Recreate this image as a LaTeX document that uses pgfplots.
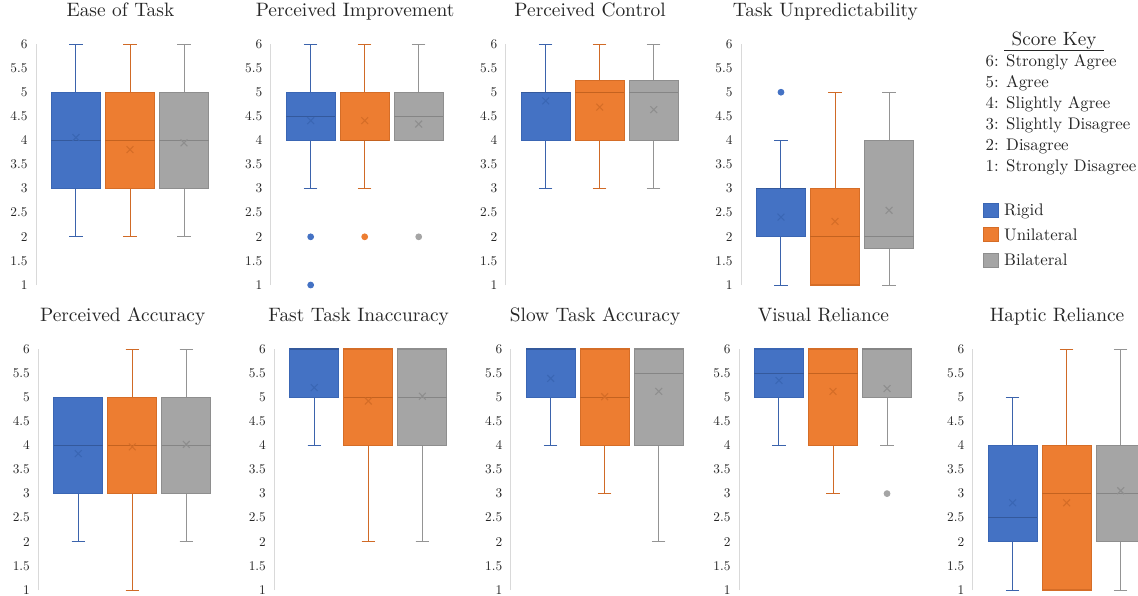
\documentclass[border=0pt]{standalone}
\usepackage{pgfplots}
\pgfplotsset{compat=1.18}
\usepgfplotslibrary{statistics}
\DeclareFontFamily{TU}{lmrx}{}
\DeclareFontShape{TU}{lmrx}{m}{n}{<-> \UnicodeFontFile{lmroman10-regular}{\UnicodeFontTeXLigatures}}{}
\newcommand{\lmx}[2]{\fontencoding{TU}\fontfamily{lmrx}\fontseries{m}\fontshape{n}\fontsize{#1}{#2}\selectfont}
\definecolor{bF}{HTML}{4472C4}\definecolor{bE}{HTML}{3A66B4}\definecolor{bW}{HTML}{3B63AC}\definecolor{bM}{HTML}{34599C}\definecolor{bX}{HTML}{3A5590}
\definecolor{oF}{HTML}{ED7D31}\definecolor{oE}{HTML}{D56D27}\definecolor{oW}{HTML}{D06A26}\definecolor{oM}{HTML}{C4621F}\definecolor{oX}{HTML}{B0602A}
\definecolor{gF}{HTML}{A5A5A5}\definecolor{gE}{HTML}{8E8E8E}\definecolor{gW}{HTML}{949494}\definecolor{gM}{HTML}{858585}\definecolor{gX}{HTML}{7F7F7F}
\definecolor{axgray}{HTML}{D9D9D9}
\definecolor{txt}{HTML}{262626}
\pgfplotsset{
  panel/.style={
    scale only axis, width=188pt, height=241pt,
    xmin=0.26, xmax=3.74, ymin=1, ymax=6,
    axis x line=none, axis y line*=left,
    axis line style={draw=axgray, line width=1pt},
    ytick={1,1.5,2,2.5,3,3.5,4,4.5,5,5.5,6},
    major tick length=0pt, ytick style={draw=none},
    xtick=\empty,
    /pgf/number format/assume math mode=true,
    yticklabel style={font=\lmx{13.3}{15}, xshift=-5pt, text=txt},
    clip=false, anchor=south west,
    title style={at={(0.449,1)}, anchor=base, yshift=21.5pt, font=\lmx{19.4}{22}, text=txt},
    boxplot/draw direction=y,
    boxplot/box extend=0.91, boxplot/whisker extend=0.25,
  }
}
\newcommand{\bp}[9]{%
\addplot[boxplot prepared={draw position=#1, lower whisker=#3, lower quartile=#4, median=#5, upper quartile=#6, upper whisker=#7, average=#8},
 fill=#2F, draw=#2E, line width=1.1pt,
 boxplot/every whisker/.style={draw=#2W, line width=1pt},
 boxplot/every median/.style={draw=#2M, line width=1.2pt},
 boxplot/every average/.style={/tikz/mark=x, /tikz/mark size=4.8pt, /tikz/mark options={draw=#2X, line width=0.7pt, solid}},
 mark=*, mark size=2.8pt, mark options={fill=#2F, draw=#2F}]
 coordinates {#9};}
\begin{document}
\begin{tikzpicture}
\path[use as bounding box] (0,0) rectangle (1138pt,-595pt);
% top row
\begin{axis}[panel, at={(36pt,-285pt)}, title={Ease of Task}]
\bp{1}{b}{2}{3}{4}{5}{6}{4.06}{}
\bp{2}{o}{2}{3}{4}{5}{6}{3.81}{}
\bp{3}{g}{2}{3}{4}{5}{6}{3.95}{}
\end{axis}
\begin{axis}[panel, at={(270.7pt,-285pt)}, title={Perceived Improvement}]
\bp{1}{b}{3}{4}{4.5}{5}{6}{4.41}{(1,2) (1,1)}
\bp{2}{o}{3}{4}{4}{5}{6}{4.41}{(2,2)}
\bp{3}{g}{4}{4}{4.5}{5}{6}{4.34}{(3,2)}
\end{axis}
\begin{axis}[panel, at={(505.7pt,-285pt)}, title={Perceived Control}]
\bp{1}{b}{3}{4}{5}{5}{6}{4.82}{}
\bp{2}{o}{3}{4}{5}{5.25}{6}{4.69}{}
\bp{3}{g}{3}{4}{5}{5.25}{6}{4.64}{}
\end{axis}
\begin{axis}[panel, at={(741pt,-285pt)}, title={Task Unpredictability}]
\bp{1}{b}{1}{2}{3}{3}{4}{2.41}{(1,5)}
\bp{2}{o}{1}{1}{2}{3}{5}{2.32}{}
\bp{3}{g}{1}{1.75}{2}{4}{5}{2.55}{}
\end{axis}
% bottom row
\begin{axis}[panel, at={(38.3pt,-590pt)}, title={Perceived Accuracy}]
\bp{1}{b}{2}{3}{4}{5}{5}{3.83}{}
\bp{2}{o}{1}{3}{4}{5}{6}{3.97}{}
\bp{3}{g}{2}{3}{4}{5}{6}{4.02}{}
\end{axis}
\begin{axis}[panel, at={(274.3pt,-590pt)}, title={Fast Task Inaccuracy}]
\bp{1}{b}{4}{5}{6}{6}{6}{5.20}{}
\bp{2}{o}{2}{4}{5}{6}{6}{4.92}{}
\bp{3}{g}{2}{4}{5}{6}{6}{5.02}{}
\end{axis}
\begin{axis}[panel, at={(510.7pt,-590pt)}, title={Slow Task Accuracy}]
\bp{1}{b}{4}{5}{6}{6}{6}{5.39}{}
\bp{2}{o}{3}{4}{5}{6}{6}{5.01}{}
\bp{3}{g}{2}{4}{5.5}{6}{6}{5.12}{}
\end{axis}
\begin{axis}[panel, at={(739pt,-590pt)}, title={Visual Reliance}]
\bp{1}{b}{4}{5}{5.5}{6}{6}{5.35}{}
\bp{2}{o}{3}{4}{5.5}{6}{6}{5.12}{}
\bp{3}{g}{4}{5}{6}{6}{6}{5.18}{(3,3)}
\end{axis}
\begin{axis}[panel, at={(972.7pt,-590pt)}, title={Haptic Reliance}]
\bp{1}{b}{1}{2}{2.5}{4}{5}{2.81}{}
\bp{2}{o}{1}{1}{3}{4}{6}{2.81}{}
\bp{3}{g}{1}{2}{3}{4}{6}{3.06}{}
\end{axis}
% score key
\begin{scope}[every node/.style={font=\lmx{16.8}{20}, text=txt, inner sep=0pt}]
\node[anchor=base, font=\lmx{19.2}{22}] at (1054pt,-45.5pt) {Score Key};
\draw[txt, line width=0.9pt] (1004pt,-50pt) -- (1104pt,-50pt);
\node[anchor=base west] at (985.5pt,-66.5pt) {6: Strongly Agree};
\node[anchor=base west] at (985.5pt,-87.5pt) {5: Agree};
\node[anchor=base west] at (985.5pt,-108.5pt) {4: Slightly Agree};
\node[anchor=base west] at (985.5pt,-129.5pt) {3: Slightly Disagree};
\node[anchor=base west] at (985.5pt,-150.5pt) {2: Disagree};
\node[anchor=base west] at (985.5pt,-171.5pt) {1: Strongly Disagree};
\draw[fill=bF, draw=bE, line width=0.8pt] (983.5pt,-203pt) rectangle (998pt,-217.5pt);
\draw[fill=oF, draw=oE, line width=0.8pt] (983.5pt,-227pt) rectangle (998pt,-241.5pt);
\draw[fill=gF, draw=gE, line width=0.8pt] (983.5pt,-253pt) rectangle (998pt,-267.5pt);
\node[anchor=base west] at (1004pt,-215pt) {Rigid};
\node[anchor=base west] at (1004pt,-240pt) {Unilateral};
\node[anchor=base west] at (1004pt,-265pt) {Bilateral};
\end{scope}
\end{tikzpicture}
\end{document}
